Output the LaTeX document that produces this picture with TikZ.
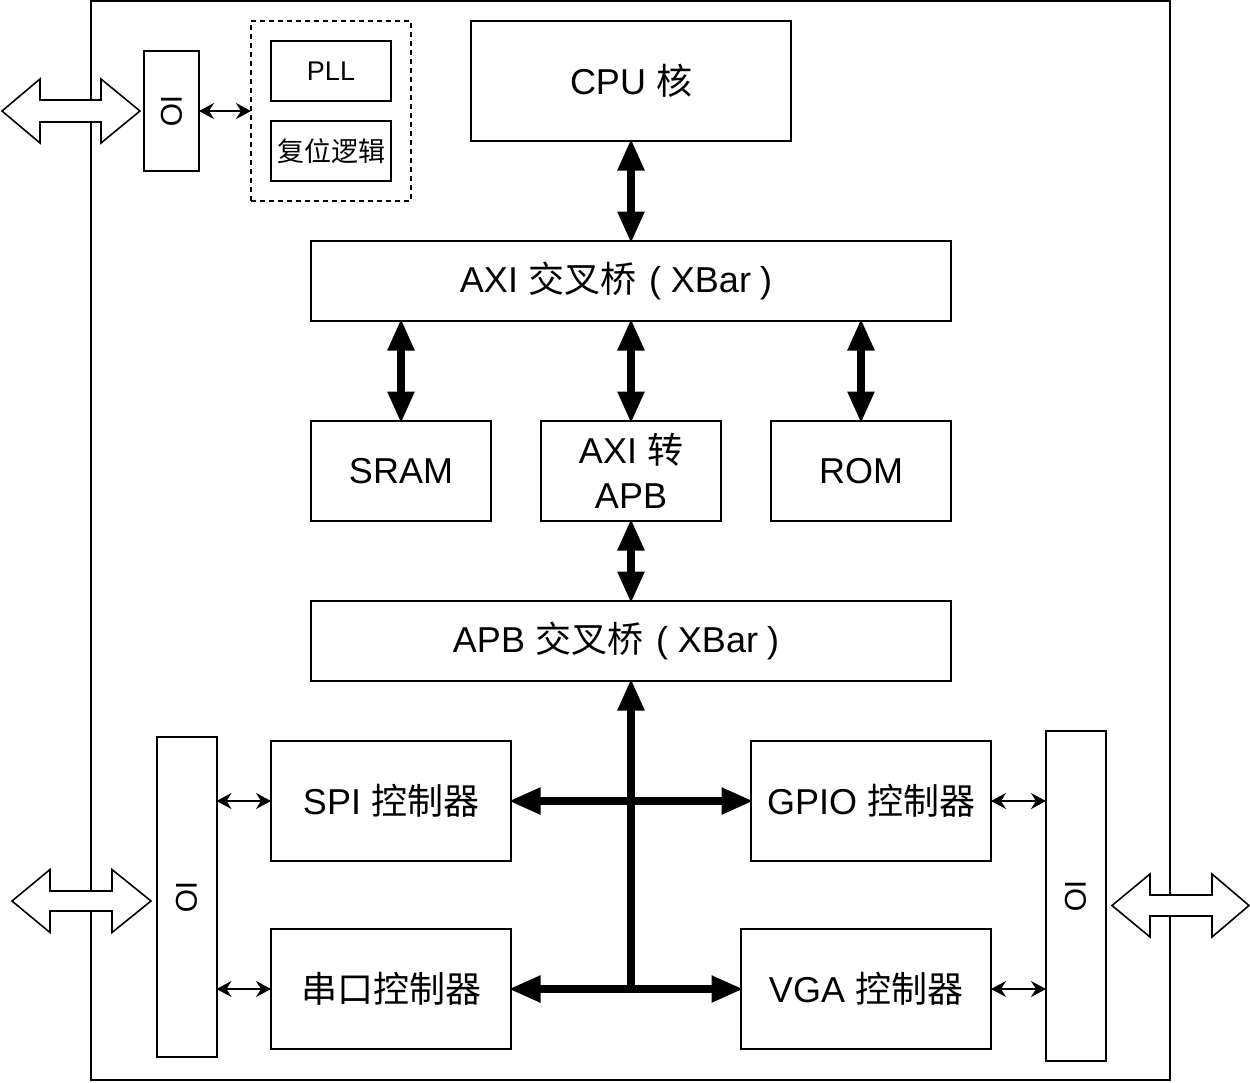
\documentclass[tikz,border=0pt]{standalone}
\usepackage{fontspec}
\setmainfont{Liberation Sans}
\newfontfamily\cjk{Noto Sans CJK SC}
\usetikzlibrary{arrows.meta}
\newcommand\hollowdarrow[7]{% x-tip-left, x-base1, x-base2, x-tip-right, y-center, head half, shaft half
  \draw[hollow] (#1,#5) -- (#2,#5-#6) -- (#2,#5-#7) -- (#3,#5-#7) -- (#3,#5-#6) -- (#4,#5)
    -- (#3,#5+#6) -- (#3,#5+#7) -- (#2,#5+#7) -- (#2,#5+#6) -- cycle;}
\newcommand\xbarlabel[1]{#1 {\cjk 交叉桥}\hspace{13pt}(\hspace{10pt}XBar\hspace{9pt})\kern30pt}
\begin{document}
\begin{tikzpicture}[x=1pt,y=-1pt,
  box/.style={draw, line width=2pt, inner sep=0pt, outer sep=0pt, align=center, font=\fontsize{36}{45}\selectfont},
  smallbox/.style={box, font=\fontsize{27}{32}\selectfont},
  iobox/.style={draw, line width=2pt, inner sep=0pt, outer sep=0pt},
  iotext/.style={rotate=-90, font=\fontsize{30}{34}\selectfont},
  hollow/.style={draw, fill=white, line width=1.6pt, line join=miter},
  bigarr/.style={line width=8pt, shorten <=-2.5pt, shorten >=-2.5pt, {Triangle[length=32pt,width=25pt]}-{Triangle[length=32pt,width=25pt]}},
  uparr/.style={line width=8pt, shorten >=-2.5pt, -{Triangle[length=32pt,width=25pt]}},
  smallarr/.style={line width=1.8pt, {Stealth[length=15pt,width=16pt,inset=5pt]}-{Stealth[length=15pt,width=16pt,inset=5pt]}}
]
\useasboundingbox (0,0) rectangle (1250,1082);
% chip outline
\node[draw, line width=2pt, inner sep=0pt, minimum width=1079pt, minimum height=1079pt] (chip) at (630.5,540.5) {};

% top left area
\node[iobox, minimum width=55pt, minimum height=120pt] (ioT) at (171.5,111) {};
\node[iotext] (ioTt) at (ioT.center) {IO};
\node[draw, line width=1.6pt, dash pattern=on 5pt off 4pt, minimum width=160pt, minimum height=180pt, inner sep=0pt, outer sep=0pt] (grp) at (331,111) {};
\node[smallbox, minimum width=120pt, minimum height=60pt] (pll) at (331,71) {PLL};
\node[smallbox, minimum width=120pt, minimum height=60pt] (rst) at (331,151) {\cjk 复位逻辑};
\draw[smallarr] (ioT.east) -- (grp.west);

% core
\node[box, minimum width=320pt, minimum height=120pt] (cpu) at (631,81) {CPU {\cjk 核}};
\node[box, minimum width=640pt, minimum height=80pt] (axi) at (631,281) {\xbarlabel{AXI}};
\node[box, minimum width=180pt, minimum height=100pt] (sram) at (401,471) {SRAM};
\node[box, minimum width=180pt, minimum height=100pt] (a2a) at (631,471) {AXI {\cjk 转}\\APB};
\node[box, minimum width=180pt, minimum height=100pt] (rom) at (861,471) {ROM};
\node[box, minimum width=640pt, minimum height=80pt] (apb) at (631,641) {\xbarlabel{APB}};

\draw[bigarr] (cpu.south) -- (axi.north);
\draw[bigarr] (axi.south -| sram.north) -- (sram.north);
\draw[bigarr] (axi.south) -- (a2a.north);
\draw[bigarr] (axi.south -| rom.north) -- (rom.north);
\draw[bigarr] (a2a.south) -- (apb.north);

% peripherals
\node[box, minimum width=240pt, minimum height=120pt] (spi) at (391,801) {SPI {\cjk 控制器}};
\node[box, minimum width=240pt, minimum height=120pt] (uart) at (391,989) {\cjk 串口控制器};
\node[box, minimum width=240pt, minimum height=120pt] (gpio) at (871,801) {GPIO {\cjk 控制器}};
\node[box, minimum width=250pt, minimum height=120pt] (vga) at (866,989) {VGA {\cjk 控制器}};

\coordinate (busbot) at (631,989);
\draw[bigarr] (spi.east) -- (gpio.west);
\draw[bigarr] (uart.east) -- (vga.west);
\draw[uparr] (busbot) -- (apb.south);

% IO blocks
\node[iobox, minimum width=60pt, minimum height=320pt] (ioL) at (186.5,897) {};
\node[iotext] (ioLt) at (ioL.center) {IO};
\node[iobox, minimum width=60pt, minimum height=330pt] (ioR) at (1076,896) {};
\node[iotext] (ioRt) at (ioR.center) {IO};

\draw[smallarr] (ioL.east |- spi.west) -- (spi.west);
\draw[smallarr] (ioL.east |- uart.west) -- (uart.west);
\draw[smallarr] (gpio.east) -- (ioR.west |- gpio.east);
\draw[smallarr] (vga.east) -- (ioR.west |- vga.east);

% external hollow double arrows
\hollowdarrow{2}{40}{101}{140}{111}{32}{11}
\hollowdarrow{12}{50}{112}{151}{901}{31.5}{10}
\hollowdarrow{1112}{1150}{1212}{1249}{905.5}{31.5}{10.5}
\end{tikzpicture}
\end{document}
